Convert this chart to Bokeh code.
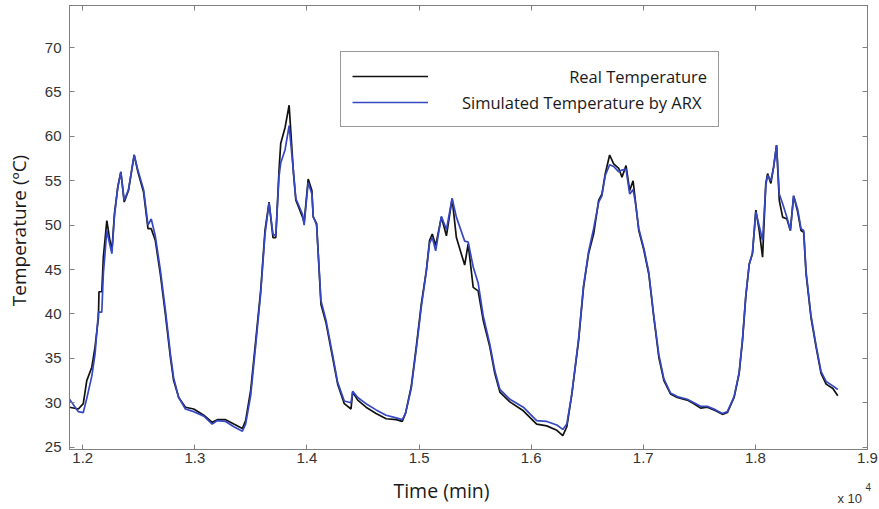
import math
from bokeh.plotting import figure
from bokeh.models import Range1d, LinearAxis, FixedTicker, Legend, LegendItem, Label
from bokeh.embed import file_html
from bokeh.resources import INLINE

# ---------------- data ----------------
time_min = [11882, 11961, 12005, 12036, 12081, 12110, 12140, 12145, 12170, 12184,
            12215, 12238, 12260, 12283, 12313, 12340, 12370, 12408, 12432, 12459,
            12492, 12543, 12582, 12611, 12647, 12692, 12737, 12782, 12811, 12856,
            12916, 12990, 13080, 13155, 13200, 13274, 13348, 13424, 13453, 13498,
            13543, 13587, 13626, 13662, 13697, 13722, 13751, 13766, 13805, 13841,
            13880, 13901, 13961, 13975, 14011, 14044, 14056, 14086, 14125, 14170,
            14229, 14274, 14333, 14393, 14408, 14453, 14527, 14617, 14706, 14796,
            14850, 14879, 14930, 14975, 15020, 15065, 15094, 15118, 15148, 15199,
            15244, 15295, 15333, 15407, 15438, 15483, 15527, 15572, 15631, 15676,
            15721, 15810, 15930, 16049, 16139, 16229, 16282, 16318, 16363, 16423,
            16467, 16512, 16557, 16602, 16631, 16661, 16700, 16736, 16781, 16810,
            16846, 16879, 16909, 16929, 16960, 17005, 17049, 17094, 17139, 17184,
            17243, 17303, 17392, 17452, 17511, 17571, 17646, 17706, 17750, 17810,
            17855, 17885, 17914, 17945, 17974, 18004, 18034, 18064, 18093, 18109,
            18138, 18162, 18189, 18213, 18243, 18281, 18312, 18341, 18377, 18407,
            18431, 18452, 18496, 18541, 18586, 18631, 18691, 18735]

real_temp = [29.5, 29.3, 29.9, 32.5, 34.0, 36.3, 39.6, 42.5, 42.5, 46.4,
             50.5, 48.6, 47.1, 51.3, 54.3, 56.0, 52.6, 53.9, 55.8, 57.9,
             56.0, 53.7, 49.6, 49.6, 48.3, 44.5, 40.0, 35.1, 32.5, 30.6,
             29.5, 29.3, 28.6, 27.8, 28.1, 28.1, 27.6, 27.1, 28.0, 31.4,
             37.0, 42.6, 49.4, 52.6, 48.6, 48.6, 56.2, 59.2, 61.0, 63.5,
             55.8, 52.8, 50.9, 50.3, 55.2, 53.9, 50.9, 50.2, 41.1, 39.0,
             35.1, 32.1, 29.9, 29.3, 31.2, 30.3, 29.5, 28.8, 28.2, 28.1,
             27.9, 28.8, 31.8, 36.3, 41.1, 44.9, 48.3, 49.0, 47.7, 50.9,
             48.8, 53.0, 48.6, 45.5, 47.9, 43.0, 42.6, 39.3, 36.3, 33.3,
             31.2, 30.1, 29.1, 27.6, 27.4, 26.9, 26.3, 27.3, 31.0, 37.0,
             43.0, 46.8, 49.0, 52.8, 53.5, 55.8, 57.9, 56.9, 56.4, 55.4,
             56.7, 53.9, 55.0, 52.8, 49.4, 47.2, 44.5, 39.6, 35.1, 32.5,
             31.0, 30.6, 30.3, 29.9, 29.4, 29.5, 29.1, 28.7, 28.9, 30.6,
             33.3, 37.0, 41.9, 45.6, 46.8, 51.7, 49.4, 46.4, 54.7, 55.8,
             54.7, 56.5, 59.0, 52.8, 50.9, 50.7, 49.4, 53.3, 51.5, 49.4,
             49.2, 44.5, 39.6, 36.3, 33.3, 32.1, 31.6, 30.8]

sim_temp = [30.4, 29.0, 28.9, 30.5, 33.0, 35.5, 40.2, 40.2, 40.2, 44.5,
            49.4, 48.0, 46.8, 51.0, 54.3, 56.0, 52.8, 54.0, 55.8, 57.9,
            56.2, 54.0, 50.0, 50.7, 48.8, 45.0, 40.5, 35.5, 32.8, 30.6,
            29.3, 29.0, 28.5, 27.6, 28.0, 27.9, 27.3, 26.8, 27.6, 30.8,
            36.5, 42.3, 49.0, 52.5, 49.0, 48.8, 55.5, 57.0, 58.5, 61.2,
            56.0, 53.0, 51.2, 50.0, 54.8, 53.5, 51.0, 50.0, 41.5, 39.3,
            35.4, 32.3, 30.2, 30.0, 31.3, 30.6, 29.9, 29.2, 28.6, 28.3,
            28.1, 28.8, 31.6, 36.0, 40.8, 44.8, 48.0, 48.6, 47.1, 51.0,
            49.5, 53.0, 50.9, 48.2, 48.1, 45.3, 43.5, 39.8, 36.6, 33.6,
            31.5, 30.4, 29.5, 28.0, 27.9, 27.5, 27.0, 27.6, 31.0, 37.2,
            43.2, 47.0, 49.6, 52.6, 53.3, 55.6, 56.8, 56.6, 56.0, 56.2,
            56.3, 53.5, 54.0, 52.6, 49.6, 47.4, 44.7, 39.8, 35.4, 32.7,
            31.1, 30.7, 30.4, 30.0, 29.6, 29.6, 29.2, 28.8, 29.0, 30.7,
            33.4, 37.2, 42.0, 45.6, 46.9, 51.5, 49.9, 48.3, 54.5, 55.6,
            55.0, 56.5, 59.0, 53.5, 52.4, 50.9, 49.4, 53.3, 51.8, 49.6,
            49.4, 44.8, 39.8, 36.5, 33.5, 32.4, 31.9, 31.5]

x_ticks = [12000, 13000, 14000, 15000, 16000, 17000, 18000, 19000]
x_tick_labels = ["1.2", "1.3", "1.4", "1.5", "1.6", "1.7", "1.8", "1.9"]
y_ticks = [25, 30, 35, 40, 45, 50, 55, 60, 65, 70]

series_names = ["Real Temperature", "Simulated Temperature by ARX"]
x_title = "Time (min)"
y_title = "Temperature (ºC)"
x_mult_base = "x 10"
x_mult_exp = "4"

# ---------------- figure ----------------
AX = "#7f7f7f"
p = figure(width=879, height=509, output_backend="svg", toolbar_location=None,
           x_range=Range1d(11882, 19000), y_range=Range1d(24.74, 74.73),
           min_border_left=69, min_border_right=12, min_border_top=5,
           min_border_bottom=60)
p.grid.visible = False
p.outline_line_color = AX
p.background_fill_color = "white"
p.border_fill_color = "white"

def style_axis(ax, labels=True):
    ax.axis_line_color = AX
    ax.major_tick_line_color = AX
    ax.major_tick_in = 5
    ax.major_tick_out = 0
    ax.minor_tick_line_color = None
    if labels:
        ax.major_label_text_font = "Liberation Sans"
        ax.major_label_text_font_size = "15px"
        ax.major_label_text_color = "#333333"
    else:
        ax.major_label_text_font_size = "1px"
        ax.major_label_text_color = None
        ax.major_label_standoff = 0

p.xaxis.ticker = FixedTicker(ticks=x_ticks)
p.xaxis.major_label_overrides = dict(zip(x_ticks, x_tick_labels))
p.yaxis.ticker = FixedTicker(ticks=y_ticks)
style_axis(p.xaxis[0])
style_axis(p.yaxis[0])
p.xaxis.major_label_standoff = 3
p.yaxis.major_label_standoff = 8

top = LinearAxis(ticker=FixedTicker(ticks=x_ticks))
style_axis(top, labels=False)
p.add_layout(top, "above")
right = LinearAxis(ticker=FixedTicker(ticks=y_ticks))
style_axis(right, labels=False)
p.add_layout(right, "right")

r_real = p.line(time_min, real_temp, line_color="#111111", line_width=1.7)
r_sim = p.line(time_min, sim_temp, line_color="#3548c2", line_width=1.7)

pad = "\u00a0" * 25
legend = Legend(items=[LegendItem(label=pad + series_names[0], renderers=[r_real]),
                       LegendItem(label=series_names[1], renderers=[r_sim])],
                location=(271, 322), orientation="vertical",
                padding=11, spacing=0, margin=0,
                glyph_width=76, glyph_height=26, label_height=26,
                label_width=244, label_standoff=34,
                label_text_font="Open Sans", label_text_font_size="16.5px",
                label_text_color="#1a1a1a",
                border_line_color="#333333", border_line_width=1.5,
                background_fill_color="white", background_fill_alpha=1.0)
p.add_layout(legend)

y_label = Label(x=18, y=230, x_units="canvas", y_units="canvas", text=y_title,
                angle=math.pi / 2, text_font="Open Sans", text_font_size="19px",
                text_color="#1a1a1a", text_align="center", text_baseline="middle")
p.add_layout(y_label, "left")

time_label = Label(x=441, y=490, x_units="canvas", y_units="canvas", text=x_title,
                   text_font="Open Sans", text_font_size="19.5px",
                   text_color="#1a1a1a", text_align="center", text_baseline="middle")
exp_base = Label(x=837, y=498, x_units="canvas", y_units="canvas", text=x_mult_base,
                 text_font="Liberation Sans", text_font_size="13px",
                 text_color="#333333", text_baseline="alphabetic")
p.add_layout(time_label, "below")
p.add_layout(exp_base, "below")

exp_pow = Label(x=865, y=486, x_units="canvas", y_units="canvas", text=x_mult_exp,
                text_font="Liberation Sans", text_font_size="10px",
                text_color="#333333", text_baseline="alphabetic")
p.add_layout(exp_pow, "right")

open("out.html", "w").write(file_html(p, INLINE))
